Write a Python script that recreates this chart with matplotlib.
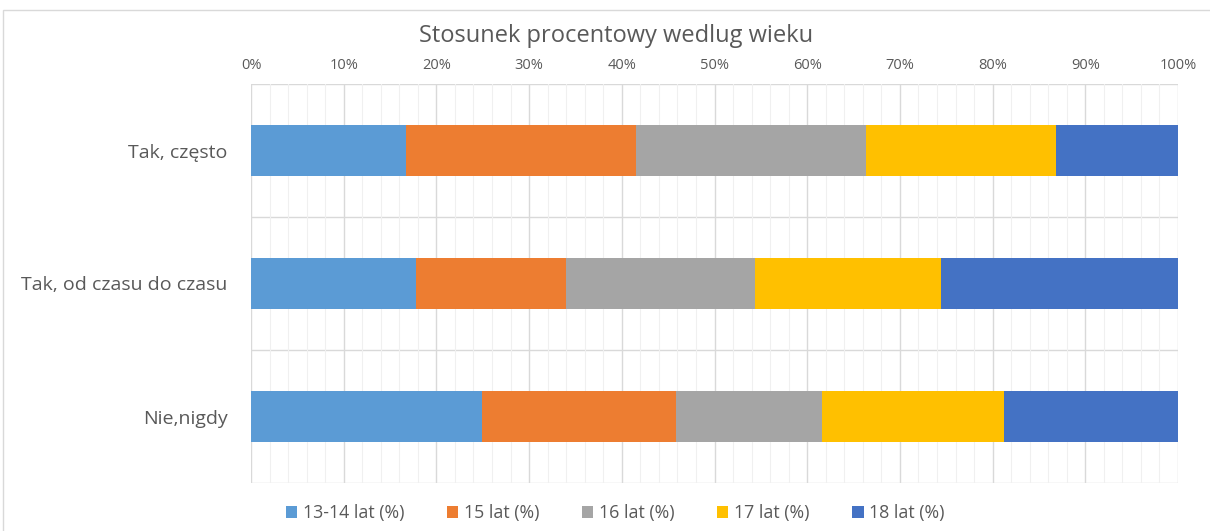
import matplotlib
matplotlib.use("Agg")
import matplotlib.pyplot as plt
from matplotlib.patches import Rectangle
from matplotlib.ticker import MultipleLocator, PercentFormatter

categories = ["Tak, często", "Tak, od czasu do czasu", "Nie,nigdy"]
series = ["13-14 lat (%)", "15 lat (%)", "16 lat (%)", "17 lat (%)", "18 lat (%)"]
v_13_14 = [16.7, 17.8, 24.9]
v_15 = [24.8, 16.2, 20.9]
v_16 = [24.8, 20.4, 15.8]
v_17 = [20.5, 20.0, 19.6]
v_18 = [13.2, 25.6, 18.8]
colors = ["#5b9bd5", "#ed7d31", "#a5a5a5", "#ffc000", "#4472c4"]

plt.rcParams['font.family'] = ['Open Sans', 'DejaVu Sans']
txt = "#595959"

fig = plt.figure(figsize=(12.1, 5.31), dpi=100)
fig.patches.append(Rectangle((3 / 1210, -0.01), 1.0, 1 - 10 / 531 + 0.01,
                             transform=fig.transFigure, fill=False,
                             edgecolor="#d9d9d9", linewidth=1))
ax = fig.add_axes([251 / 1210, 1 - 483 / 531, 927 / 1210, 399 / 531])

ypos = list(range(len(categories)))
left = [0.0] * len(categories)
for name, vals, col in zip(series, [v_13_14, v_15, v_16, v_17, v_18], colors):
    tot = [a + b for a, b in zip(left, vals)]
    ax.barh(ypos, vals, left=left, height=0.39, color=col, label=name, zorder=3)
    left = tot

ax.set_xlim(0, 100)
ax.set_ylim(len(categories) - 0.5, -0.5)
ax.xaxis.set_major_locator(MultipleLocator(10))
ax.xaxis.set_minor_locator(MultipleLocator(2))
ax.xaxis.set_major_formatter(PercentFormatter(decimals=0))
ax.xaxis.tick_top()
ax.tick_params(axis='x', which='both', length=0, pad=8, labelsize=10.5, labelcolor=txt)
ax.grid(axis='x', which='major', color="#d9d9d9", linewidth=1, zorder=0)
ax.grid(axis='x', which='minor', color="#f0f0f0", linewidth=0.8, zorder=0)

ax.set_yticks(ypos)
ax.set_yticklabels(categories)
ax.tick_params(axis='y', length=0, pad=17, labelsize=14, labelcolor=txt)
for b in [-0.5, 0.5, 1.5, 2.5]:
    ax.axhline(b, color="#d9d9d9", linewidth=1, zorder=1)
for s in ax.spines.values():
    s.set_visible(False)

fig.text(616 / 1210, 1 - 36 / 531, "Stosunek procentowy wedlug wieku", ha='center',
         va='center', fontsize=17, color=txt)

fig.legend(loc='center', bbox_to_anchor=(615 / 1210, 1 - 513 / 531), ncol=5,
           frameon=False, fontsize=12.8, labelcolor=txt, handlelength=0.65,
           handleheight=0.65, handletextpad=0.3, columnspacing=2.4)

fig.savefig("out.png", dpi=100)
